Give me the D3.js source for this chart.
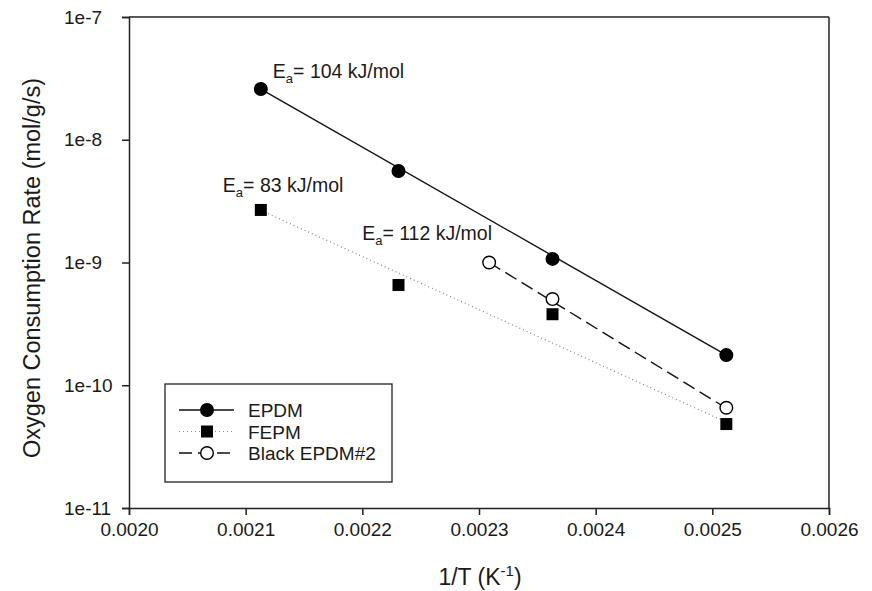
<!DOCTYPE html>
<html>
<head>
<meta charset="utf-8">
<script src="https://cdn.jsdelivr.net/npm/d3@7"></script>
<style>
  body { margin: 0; background: #fff; }
  text { font-family: Arial, "Liberation Sans", sans-serif; fill: #1a1a1a; }
</style>
</head>
<body>
<div id="chart"></div>
<script>
// tick values
const xTicks = [0.0020, 0.0021, 0.0022, 0.0023, 0.0024, 0.0025, 0.0026];
const yTicks = [1e-7, 1e-8, 1e-9, 1e-10, 1e-11];
const yTickLabels = ["1e-7", "1e-8", "1e-9", "1e-10", "1e-11"];

// measured points (1/T, rate)
const epdmX = [0.002113, 0.002231, 0.002363, 0.002512];
const epdmY = [2.59e-8, 5.56e-9, 1.07e-9, 1.76e-10];
const fepmX = [0.002113, 0.002231, 0.002363, 0.002512];
const fepmY = [2.68e-9, 6.56e-10, 3.79e-10, 4.83e-11];
const blackX = [0.0023087, 0.002363, 0.002512];
const blackY = [1.0e-9, 5.04e-10, 6.56e-11];

// Arrhenius fit lines (end points)
const epdmFitY = [2.59e-8, 1.76e-10];
const fepmFitY = [2.66e-9, 5.0e-11];
const blackFitY = [1.0e-9, 6.5e-11];

const seriesNames = ["EPDM", "FEPM", "Black EPDM#2"];
const eaLabels = ["104", "83", "112"];

const width = 872, height = 591;
const margin = {top: 17, right: 43, bottom: 83, left: 129};

var svg = d3.select("#chart").append("svg")
    .attr("width", width)
    .attr("height", height);

var x = d3.scaleLinear()
    .domain([0.0020, 0.0026])
    .range([margin.left, width - margin.right]);

var y = d3.scaleLog()
    .domain([1e-11, 1e-7])
    .range([height - margin.bottom, margin.top]);

//axes
svg.append("g")
    .attr("transform", "translate(0," + (height - margin.bottom) + ")")
    .call(d3.axisBottom(x).tickValues(xTicks).tickFormat(d3.format(".4f")).tickSizeOuter(0).tickSize(7).tickPadding(8))
    .call(g => g.selectAll("text").style("font-size", "19px").attr("fill", "#1a1a1a"));

//y labels are left aligned in the original
svg.append("g")
    .attr("transform", "translate(" + margin.left + ",0)")
    .call(d3.axisLeft(y).tickValues(yTicks).tickFormat((d, i) => yTickLabels[i]).tickSizeOuter(0).tickSize(7))
    .call(g => g.selectAll("text")
        .style("font-size", "19px")
        .attr("fill", "#1a1a1a")
        .attr("text-anchor", "start")
        .attr("x", -65));

svg.selectAll(".domain, .tick line").attr("stroke", "#222").attr("stroke-width", 1.5);

//frame top and right
svg.append("line")
    .attr("x1", x(0.0020)).attr("x2", x(0.0026))
    .attr("y1", y(1e-7)).attr("y2", y(1e-7))
    .attr("stroke", "#222").attr("stroke-width", 1.5);
svg.append("line")
    .attr("x1", x(0.0026)).attr("x2", x(0.0026))
    .attr("y1", y(1e-7)).attr("y2", y(1e-11))
    .attr("stroke", "#222").attr("stroke-width", 1.5);

//axis titles
svg.append("text")
    .attr("transform", "translate(40,268) rotate(-90)")
    .attr("text-anchor", "middle")
    .style("font-size", "23.5px")
    .text("Oxygen Consumption Rate (mol/g/s)");

var xt = svg.append("text")
    .attr("x", 480)
    .attr("y", 585)
    .attr("text-anchor", "middle")
    .style("font-size", "23px");
xt.append("tspan").text("1/T (K");
xt.append("tspan").attr("dy", -9).style("font-size", "15px").text("-1");
xt.append("tspan").attr("dy", 9).text(")");

//styles per series
const dashes = [null, "1,3", "13,6"];
const strokes = ["#111", "#888", "#111"];

function drawFit(xs, fit, i) {
    svg.append("line")
        .attr("x1", x(xs[0])).attr("x2", x(xs[xs.length - 1]))
        .attr("y1", y(fit[0])).attr("y2", y(fit[1]))
        .attr("stroke", strokes[i])
        .attr("stroke-width", i == 1 ? 1.2 : 1.4)
        .attr("stroke-dasharray", dashes[i]);
}

drawFit(epdmX, epdmFitY, 0);
drawFit(fepmX, fepmFitY, 1);
drawFit(blackX, blackFitY, 2);

//markers
function circles(xs, ys, fill) {
    svg.append("g").selectAll("circle")
        .data(xs)
        .enter()
        .append("circle")
            .attr("cx", d => x(d))
            .attr("cy", (d, i) => y(ys[i]))
            .attr("r", 6.3)
            .attr("fill", fill)
            .attr("stroke", "#000")
            .attr("stroke-width", 1.4);
}

circles(epdmX, epdmY, "#000");
circles(blackX, blackY, "#fff");

svg.append("g").selectAll("rect")
    .data(fepmX)
    .enter()
    .append("rect")
        .attr("x", d => x(d) - 6)
        .attr("y", (d, i) => y(fepmY[i]) - 6)
        .attr("width", 12)
        .attr("height", 12)
        .attr("fill", "#000");

//activation energy labels, placed relative to first point of each series
const firstPts = [[epdmX[0], epdmY[0]], [fepmX[0], fepmY[0]], [blackX[0], blackY[0]]];
const offsets = [[12, -11], [-38, -18], [-127, -23]];

firstPts.forEach(function(p, i) {
    var t = svg.append("text")
        .attr("x", x(p[0]) + offsets[i][0])
        .attr("y", y(p[1]) + offsets[i][1])
        .style("font-size", "19.5px");
    t.append("tspan").text("E");
    t.append("tspan").attr("dy", 5).style("font-size", "13px").text("a");
    t.append("tspan").attr("dy", -5).text("= " + eaLabels[i] + " kJ/mol");
});

//legend
var legend = svg.append("g").attr("transform", "translate(165,384)");
legend.append("rect")
    .attr("width", 227).attr("height", 98)
    .attr("fill", "#fff").attr("stroke", "#222").attr("stroke-width", 1.3);

seriesNames.forEach(function(name, i) {
    var row = legend.append("g").attr("transform", "translate(0," + (26 + i * 21.5) + ")");
    row.append("line")
        .attr("x1", 14).attr("x2", 69)
        .attr("stroke", strokes[i])
        .attr("stroke-width", i == 1 ? 1.2 : 1.4)
        .attr("stroke-dasharray", dashes[i]);
    if (i == 1) {
        row.append("rect").attr("x", 36).attr("y", -6).attr("width", 12).attr("height", 12).attr("fill", "#000");
    } else {
        row.append("circle").attr("cx", 42).attr("r", 6.3)
            .attr("fill", i == 0 ? "#000" : "#fff")
            .attr("stroke", "#000").attr("stroke-width", 1.4);
    }
    row.append("text")
        .attr("x", 83).attr("y", 7)
        .style("font-size", "19px")
        .text(name);
});
</script>
</body>
</html>
